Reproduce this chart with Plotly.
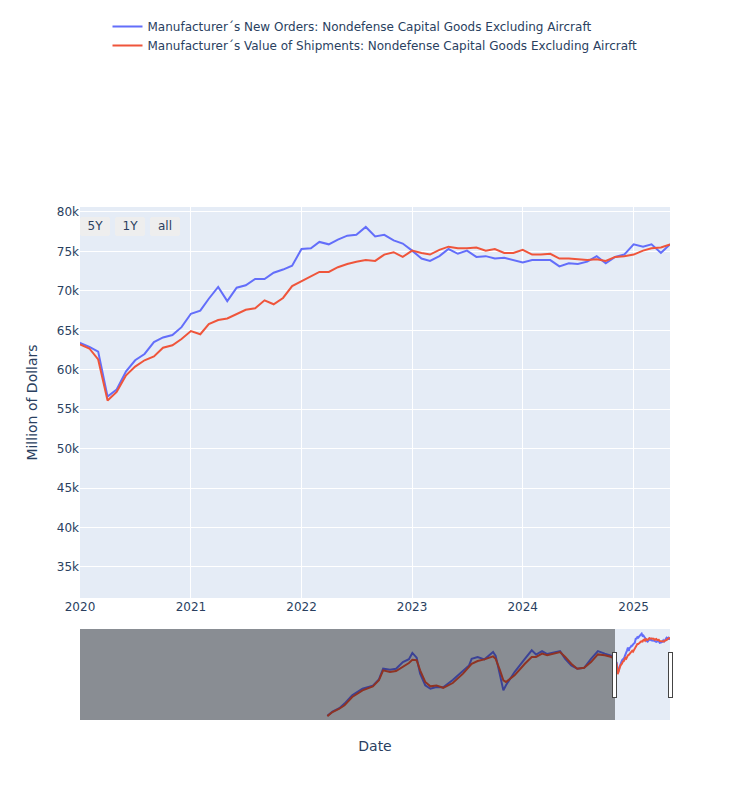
import pandas as pd
import plotly.graph_objects as go

hist_dates = [
    "1992-02-01", "1992-08-01", "1993-04-01", "1993-10-01", "1994-07-01", "1995-07-01",
    "1996-07-01", "1997-02-01", "1997-07-01", "1998-03-01", "1998-10-01", "1999-06-01",
    "2000-01-01", "2000-05-01", "2000-10-01", "2001-02-01", "2001-08-01", "2002-02-01",
    "2002-09-01", "2003-05-01", "2004-04-01", "2005-04-01", "2005-11-01", "2006-02-01",
    "2006-09-01", "2007-05-01", "2008-03-01", "2008-06-01", "2008-11-01", "2009-03-01",
    "2009-06-01", "2010-04-01", "2011-04-01", "2011-12-01", "2012-05-01", "2012-12-01",
    "2013-06-01", "2014-03-01", "2014-09-01", "2015-03-01", "2015-10-01", "2016-05-01",
    "2017-01-01", "2017-09-01", "2018-05-01", "2019-01-01", "2019-09-01",
]
hist_orders = [
    33400, 35600, 37500, 40000, 44500, 48100,
    49800, 53200, 59000, 58400, 59000, 62600,
    64200, 67600, 65000, 56300, 50000, 48100,
    49000, 48900, 52900, 58100, 60800, 64400,
    65400, 64100, 68100, 66000, 56300, 47200,
    50000, 57200, 64400, 69000, 66700, 68600,
    67000, 68100, 68600, 64400, 60800, 59000,
    59500, 64400, 68600, 67200, 66000,
]
hist_shipments = [
    33200, 35400, 37200, 39100, 43600, 47200,
    49400, 52700, 58100, 57200, 57700, 59900,
    62100, 63900, 63600, 58100, 51800, 49400,
    49900, 48600, 51200, 56300, 59900, 61700,
    63200, 64100, 65700, 64400, 58100, 52700,
    51800, 55400, 61700, 65400, 65400, 67200,
    66300, 67200, 68100, 65400, 61700, 59000,
    59500, 62600, 66800, 66300, 65400,
]

# Dati mensili recenti (gen 2020 - mag 2025)
recent_dates = pd.date_range("2020-01-01", "2025-05-01", freq="MS")
recent_orders = [
    63400, 62900, 62300, 56600, 57500, 59800, 61200, 62000, 63500, 64100, 64400, 65400,
    67100, 67500, 69000, 70500, 68700, 70400, 70700, 71500, 71500, 72300, 72700, 73200,
    75300, 75400, 76200, 75900, 76500, 77000, 77100, 78100, 76900, 77100, 76400, 76000,
    75100, 74100, 73800, 74400, 75300, 74700, 75100, 74300, 74400, 74100, 74200, 73900,
    73600, 73900, 73900, 73900, 73100, 73500, 73400, 73700, 74400, 73500, 74300, 74600,
    75900, 75600, 75900, 74800, 75900,
]
recent_shipments = [
    63200, 62700, 61300, 56100, 57200, 59300, 60400, 61200, 61700, 62800, 63100, 63900,
    64900, 64500, 65800, 66300, 66500, 67100, 67600, 67800, 68800, 68300, 69100, 70600,
    71200, 71800, 72400, 72400, 73000, 73400, 73700, 73900, 73800, 74600, 74900, 74300,
    75100, 74800, 74600, 75200, 75600, 75400, 75400, 75500, 75100, 75300, 74800, 74800,
    75200, 74600, 74600, 74700, 74100, 74100, 74000, 73900, 74000, 73800, 74300, 74400,
    74600, 75100, 75400, 75500, 75900,
]

dates = pd.to_datetime(hist_dates).append(recent_dates)
orders = hist_orders + recent_orders
shipments = hist_shipments + recent_shipments

fig = go.Figure()
fig.add_trace(go.Scatter(
    x=dates, y=orders, mode="lines",
    name="Manufacturer´s New Orders: Nondefense Capital Goods Excluding Aircraft",
    line=dict(color="#636EFA", width=2),
))
fig.add_trace(go.Scatter(
    x=dates, y=shipments, mode="lines",
    name="Manufacturer´s Value of Shipments: Nondefense Capital Goods Excluding Aircraft",
    line=dict(color="#EF553B", width=2),
))

fig.update_layout(
    template="plotly",
    width=750,
    height=800,
    font=dict(family="DejaVu Sans, Verdana, sans-serif", size=12),
    margin=dict(l=80, r=80, t=207, b=80),
    legend=dict(orientation="h", x=0.5, xanchor="center",
                yref="container", y=0.985, yanchor="top"),
    xaxis=dict(
        title="Date",
        range=["2020-01-01", "2025-05-01"],
        rangeselector=dict(
            buttons=[
                dict(count=5, label="5Y", step="year", stepmode="backward"),
                dict(count=1, label="1Y", step="year", stepmode="backward"),
                dict(step="all", label="all"),
            ],
            x=0, xanchor="left", y=0.98, yanchor="top",
        ),
        rangeslider=dict(visible=True, range=["1968-02-01", "2025-05-01"], thickness=0.177),
        type="date",
    ),
    yaxis=dict(title="Million of Dollars", range=[31070, 80630]),
)

# niente margine del body, cosi' il grafico parte dall'angolo della finestra
fig.write_html("out.html", config={"displayModeBar": False},
               post_script="document.body.style.margin='0';")
